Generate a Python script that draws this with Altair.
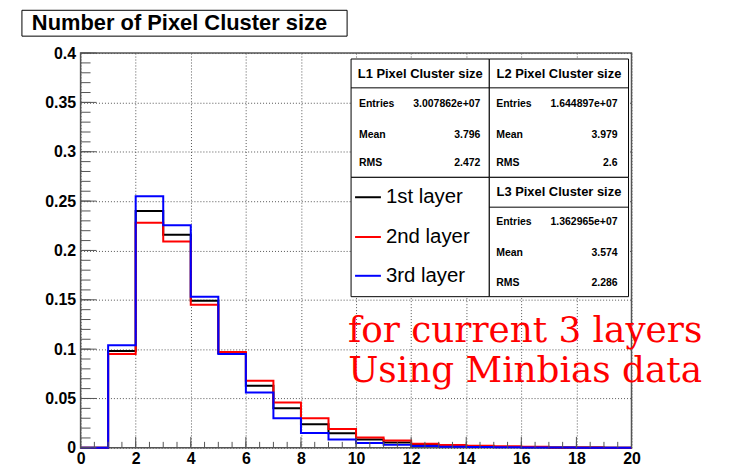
import altair as alt
import pandas as pd

# ---------------- data ----------------
bin_edges = list(range(0, 21))
layer1 = [0.0, 0.098, 0.240, 0.216, 0.149, 0.096, 0.063, 0.040, 0.024, 0.0148,
          0.0085, 0.0053, 0.0030, 0.0020, 0.0013, 0.0009, 0.0006, 0.0004, 0.0003, 0.0002]
layer2 = [0.0, 0.095, 0.228, 0.209, 0.145, 0.097, 0.068, 0.046, 0.030, 0.019,
          0.0105, 0.0075, 0.0042, 0.0028, 0.0020, 0.0015, 0.0012, 0.0004, 0.0003, 0.0002]
layer3 = [0.0, 0.104, 0.255, 0.2255, 0.153, 0.095, 0.056, 0.030, 0.015, 0.0085,
          0.0048, 0.0030, 0.0018, 0.0012, 0.0008, 0.0005, 0.0004, 0.0003, 0.0002, 0.0001]
series = [layer1, layer2, layer3]
series_colors = ["black", "#ff0000", "#0000ff"]
legend_labels = ["1st layer", "2nd layer", "3rd layer"]

title_text = "Number of Pixel Cluster size"
stat_titles = ["L1 Pixel Cluster size", "L2 Pixel Cluster size", "L3 Pixel Cluster size"]
stat_names = ["Entries", "Mean", "RMS"]
stat_values = [["3.007862e+07", "3.796", "2.472"],
               ["1.644897e+07", "3.979", "2.6"],
               ["1.362965e+07", "3.574", "2.286"]]
note_lines = ["for current 3 layers", "Using Minbias data"]

x_ticks = [0, 2, 4, 6, 8, 10, 12, 14, 16, 18, 20]
y_ticks = [0, 0.05, 0.1, 0.15, 0.2, 0.25, 0.3, 0.35, 0.4]
x_minor = [i * 0.5 for i in range(41)]
y_minor = [round(i * 0.01, 2) for i in range(41)]

W, H = 554, 397
xs = alt.Scale(domain=[0, 20], nice=False, zero=False)
ys = alt.Scale(domain=[0, 0.4], nice=False)
FONT = "Liberation Sans"

x_axis = alt.Axis(
    values=x_ticks, title=None, labelFont=FONT, labelFontWeight="bold", labelFontSize=16,
    labelColor="black", tickSize=0, domain=False, labelPadding=3, labelFlush=False,
    grid=True, gridDash=[1, 2], gridColor="#555", gridWidth=1)
y_axis = alt.Axis(
    values=y_ticks, format="~g", title=None, labelFont=FONT, labelFontWeight="bold",
    labelFontSize=16, labelColor="black", tickSize=0, domain=False, labelPadding=5,
    labelFlush=False, grid=True, gridDash=[1, 2], gridColor="#555", gridWidth=1)

layers = []

# histograms (black, red, blue drawn in that order)
for vals, col in zip(series, series_colors):
    df = pd.DataFrame({"x": bin_edges, "y": vals + [vals[-1]]})
    layers.append(alt.Chart(df).mark_line(interpolate="step-after", color=col, strokeWidth=2).encode(
        x=alt.X("x:Q", scale=xs, axis=x_axis),
        y=alt.Y("y:Q", scale=ys, axis=y_axis)))

# tick marks inside the frame
layers.append(alt.Chart(pd.DataFrame({"y": y_minor})).mark_rule(color="#555", strokeWidth=1).encode(
    y=alt.Y("y:Q", scale=ys, axis=y_axis), x=alt.value(0), x2=alt.value(10)))
layers.append(alt.Chart(pd.DataFrame({"y": y_ticks})).mark_rule(color="#555", strokeWidth=1).encode(
    y=alt.Y("y:Q", scale=ys, axis=y_axis), x=alt.value(0), x2=alt.value(16)))
layers.append(alt.Chart(pd.DataFrame({"x": x_minor})).mark_rule(color="#555", strokeWidth=1).encode(
    x=alt.X("x:Q", scale=xs, axis=x_axis), y=alt.value(H), y2=alt.value(H - 6)))
layers.append(alt.Chart(pd.DataFrame({"x": x_ticks})).mark_rule(color="#555", strokeWidth=1).encode(
    x=alt.X("x:Q", scale=xs, axis=x_axis), y=alt.value(H), y2=alt.value(H - 11)))

# title box
layers.append(alt.Chart(pd.DataFrame({"a": [0]})).mark_rect(fill="white", stroke="black", strokeWidth=1).encode(
    x=alt.value(-59), x2=alt.value(268), y=alt.value(-43), y2=alt.value(-17)))
layers.append(alt.Chart(pd.DataFrame({"t": [title_text]})).mark_text(
    align="left", baseline="middle", font=FONT, fontWeight="bold", fontSize=22, color="black").encode(
    x=alt.value(-49), y=alt.value(-30), text="t:N"))

# stats boxes
def box(x0, x1, y0, y1):
    return alt.Chart(pd.DataFrame({"a": [0]})).mark_rect(fill="white", stroke="black", strokeWidth=1).encode(
        x=alt.value(x0), x2=alt.value(x1), y=alt.value(y0), y2=alt.value(y1))

def hline(x0, x1, y):
    return alt.Chart(pd.DataFrame({"a": [0]})).mark_rule(color="black", strokeWidth=1).encode(
        x=alt.value(x0), x2=alt.value(x1), y=alt.value(y))

def txt(s, x, y, align="left", size=10.5, weight="bold", color="black", font=FONT):
    return alt.Chart(pd.DataFrame({"t": [s]})).mark_text(
        align=align, baseline="middle", font=font, fontWeight=weight, fontSize=size, color=color).encode(
        x=alt.value(x), y=alt.value(y), text="t:N")

layers += [box(272, 411, 6, 125), hline(272, 411, 35),
           box(411, 551, 6, 125), hline(411, 551, 35),
           box(272, 411, 125, 245),
           box(411, 551, 125, 245), hline(411, 551, 155)]

panels = [(341.5, 21, 280, 402, [51, 82, 111]),
          (481, 21, 418, 540, [51, 82, 111]),
          (481, 140, 418, 540, [170, 201, 231])]
for k, (cx, ty, lx, rx, rows) in enumerate(panels):
    layers.append(txt(stat_titles[k], cx, ty, align="center", size=13))
    for j, ry in enumerate(rows):
        layers.append(txt(stat_names[j], lx, ry))
        layers.append(txt(stat_values[k][j], rx, ry, align="right"))

# legend
for j, (lab, col) in enumerate(zip(legend_labels, series_colors)):
    ly = [145, 185, 224][j]
    layers.append(alt.Chart(pd.DataFrame({"a": [0]})).mark_rule(color=col, strokeWidth=2).encode(
        x=alt.value(276), x2=alt.value(302), y=alt.value(ly)))
    layers.append(txt(lab, 307, ly, size=20.5, weight="normal"))

# red annotation
for j, line in enumerate(note_lines):
    layers.append(alt.Chart(pd.DataFrame({"t": [line]})).mark_text(
        align="center", baseline="alphabetic", font="DejaVu Serif", fontSize=36, color="#ff0000").encode(
        x=alt.value(447), y=alt.value([291, 331][j]), text="t:N"))

chart = alt.layer(*layers).properties(
    width=W, height=H,
    autosize=alt.AutoSizeParams(type="none"),
    padding={"left": 73, "top": 44, "right": 90, "bottom": 22},
    background="white",
).configure_view(stroke="#555", strokeWidth=1.5)

chart.save("out.html", embed_options={"renderer": "svg", "actions": False})
